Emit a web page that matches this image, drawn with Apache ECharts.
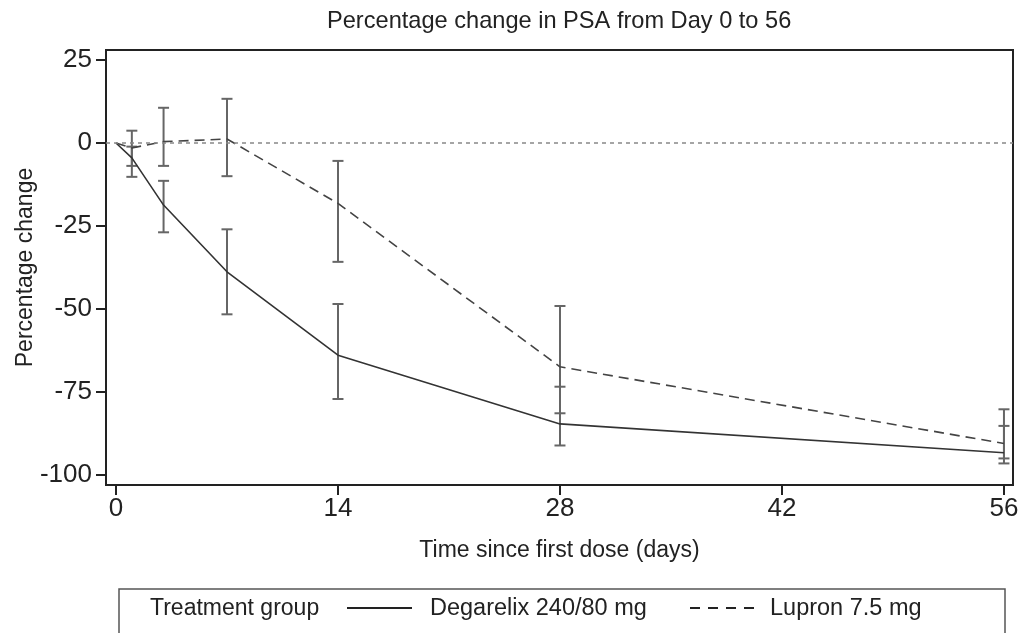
<!DOCTYPE html>
<html>
<head>
<meta charset="utf-8">
<script src="https://cdn.jsdelivr.net/npm/echarts@6/dist/echarts.min.js"></script>
<style>html,body{margin:0;padding:0;background:#fff}#c{width:1021px;height:633px}</style>
</head>
<body>
<div id="c"></div>
<script>
// ---- data ----
const days = [0, 1, 3, 7, 14, 28, 56];
const degarelixMean = [0, -4.5, -18.7, -38.8, -63.9, -84.6, -93.3];
const degarelixLow  = [null, -10.2, -26.9, -51.6, -77.1, -91.1, -96.5];
const degarelixHigh = [null, -1.1, -11.4, -26.0, -48.5, -73.4, -85.2];
const lupronMean = [0, -1.5, 0.4, 1.2, -18.2, -67.4, -90.5];
const lupronLow  = [null, -6.9, -6.9, -10.0, -35.8, -81.4, -95.0];
const lupronHigh = [null, 3.7, 10.6, 13.3, -5.4, -49.1, -80.2];
const xTicks = [0, 14, 28, 42, 56];
const yTicks = [-100, -75, -50, -25, 0, 25];
const seriesNames = ['Degarelix 240/80 mg', 'Lupron 7.5 mg'];
const legendTitle = 'Treatment group';

const FONT = '"Liberation Sans", Arial, Helvetica, sans-serif';
const chart = echarts.init(document.getElementById('c'), null, {renderer: 'canvas'});

function pairs(xs, ys) { return xs.map((x, i) => [x, ys[i]]); }
function bars(xs, lo, hi) {
  const out = [];
  xs.forEach((x, i) => { if (lo[i] != null) out.push([x, lo[i], hi[i]]); });
  return out;
}
function errRender(params, api) {
  const x = api.value(0);
  const lo = api.coord([x, api.value(1)]);
  const hi = api.coord([x, api.value(2)]);
  const w = 5.5;
  const st = {stroke: '#666', lineWidth: 2};
  return {
    type: 'group',
    children: [
      {type: 'line', shape: {x1: lo[0], y1: lo[1], x2: hi[0], y2: hi[1]}, style: st},
      {type: 'line', shape: {x1: lo[0] - w, y1: lo[1], x2: lo[0] + w, y2: lo[1]}, style: st},
      {type: 'line', shape: {x1: hi[0] - w, y1: hi[1], x2: hi[0] + w, y2: hi[1]}, style: st}
    ]
  };
}

const option = {
  animation: false,
  backgroundColor: '#fff',
  title: {
    text: 'Percentage change in PSA from Day 0 to 56',
    left: 322, top: 4,
    textStyle: {fontFamily: FONT, fontSize: 23.6, fontWeight: 'normal', color: '#222'}
  },
  grid: {
    left: 106, right: 8, top: 50, bottom: 148,
    containLabel: false, outerBoundsMode: 'none',
    show: true, borderColor: '#222', borderWidth: 2, backgroundColor: '#fff'
  },
  xAxis: {
    type: 'value', min: -0.63, max: 56.57,
    name: 'Time since first dose (days)', nameLocation: 'middle', nameGap: 54,
    nameTextStyle: {fontFamily: FONT, fontSize: 23, color: '#222'},
    axisLine: {show: false, onZero: false},
    axisTick: {show: true, customValues: xTicks, length: 10, inside: false, lineStyle: {color: '#222', width: 2}},
    axisLabel: {customValues: xTicks, fontFamily: FONT, fontSize: 26, color: '#222', margin: 11},
    splitLine: {show: false}
  },
  yAxis: {
    type: 'value', min: -103, max: 28,
    name: 'Percentage change', nameLocation: 'middle', nameGap: 69, nameRotate: 90,
    nameMoveOverlap: false,
    nameTextStyle: {fontFamily: FONT, fontSize: 23, color: '#222'},
    axisLine: {show: false, onZero: false},
    axisTick: {show: true, customValues: yTicks, length: 10, inside: false, lineStyle: {color: '#222', width: 2}},
    axisLabel: {customValues: yTicks, fontFamily: FONT, fontSize: 26, color: '#222', margin: 14},
    splitLine: {show: false}
  },
  graphic: [
    {type: 'rect', shape: {x: 119, y: 589, width: 886, height: 60}, style: {fill: 'none', stroke: '#555', lineWidth: 1.5}},
    {type: 'text', x: 150, y: 609, style: {text: legendTitle, font: '23px ' + FONT, fill: '#222', verticalAlign: 'middle'}},
    {type: 'line', shape: {x1: 347, y1: 608, x2: 412, y2: 608}, style: {stroke: '#222', lineWidth: 2}},
    {type: 'text', x: 430, y: 609, style: {text: seriesNames[0], font: '23.5px ' + FONT, fill: '#222', verticalAlign: 'middle'}},
    {type: 'line', shape: {x1: 690, y1: 608, x2: 757, y2: 608}, style: {stroke: '#222', lineWidth: 2, lineDash: [10, 8]}},
    {type: 'text', x: 770, y: 609, style: {text: seriesNames[1], font: '23.5px ' + FONT, fill: '#222', verticalAlign: 'middle'}}
  ],
  series: [
    {
      name: 'zero', type: 'line', data: [], silent: true,
      markLine: {
        silent: true, symbol: 'none', label: {show: false},
        lineStyle: {color: '#888', type: [4, 4], width: 1.5},
        data: [{yAxis: 0}]
      }
    },
    {
      name: 'errD', type: 'custom', renderItem: errRender, data: bars(days, degarelixLow, degarelixHigh), z: 3
    },
    {
      name: 'errL', type: 'custom', renderItem: errRender, data: bars(days, lupronLow, lupronHigh), z: 3
    },
    {
      name: seriesNames[0], type: 'line', data: pairs(days, degarelixMean),
      symbol: 'none', lineStyle: {color: '#333', width: 1.6, type: 'solid'}, itemStyle: {color: '#333'}, z: 4
    },
    {
      name: seriesNames[1], type: 'line', data: pairs(days, lupronMean),
      symbol: 'none', lineStyle: {color: '#444', width: 1.6, type: [10, 6]}, itemStyle: {color: '#444'}, z: 4
    }
  ]
};
chart.setOption(option);
</script>
</body>
</html>
